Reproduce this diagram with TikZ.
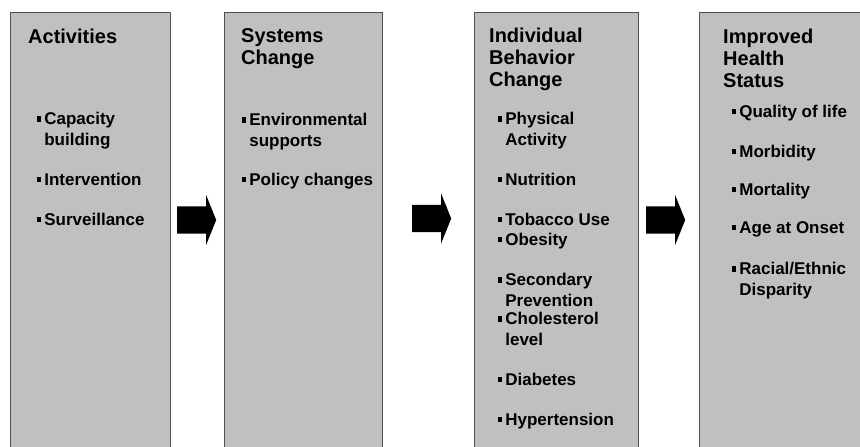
\documentclass[tikz,border=0pt]{standalone}
\usepackage{xcolor}
\usepackage{tikz}
\usepackage{fontspec}
\setmainfont{Liberation Sans}
\definecolor{boxgray}{RGB}{192, 192, 192}
\definecolor{edgegray}{RGB}{80, 80, 80}
\usetikzlibrary{shapes, arrows, positioning}
\newcommand{\bul}{\rule[0.16em]{0.25em}{0.32em}\hspace{0.17em}}
\newcommand{\ind}{\phantom{\bul}}

\begin{document}
\begin{tikzpicture}[
    x=1pt, y=-1pt,
    stagebox/.style={rectangle, draw=edgegray, line width=1.2pt, fill=boxgray, anchor=north west, minimum height=470pt, inner sep=0pt},
    heading/.style={anchor=base west, inner sep=0pt, align=left, font=\fontsize{20}{22}\selectfont\bfseries},
    entry/.style={anchor=base west, inner sep=0pt, align=left, font=\fontsize{17}{20.5}\selectfont\bfseries},
    flow/.style={single arrow, fill=black, draw=none, anchor=west, inner xsep=0pt, inner ysep=13.5pt, text height=0pt, text depth=0pt, minimum height=39pt, single arrow head extend=11.5pt, single arrow tip angle=136}
]
    \useasboundingbox (0,0) rectangle (860,447);
    \clip (0,0) rectangle (860,447);
    \fill[white] (0,0) rectangle (860,447);

    % stages
    \node[stagebox, minimum width=160pt] (act) at (10,12) {};
    \node[stagebox, minimum width=158pt] (sys) at (224,12) {};
    \node[stagebox, minimum width=164pt] (ind) at (474,12) {};
    \node[stagebox, minimum width=175pt] (hlth) at (699,12) {};

    % headings (base = last line)
    \node[heading] (actT) at (28,43) {Activities};
    \node[heading] (sysT) at (241,64) {Systems\\Change};
    \node[heading] (indT) at (489,86) {Individual\\Behavior\\Change};
    \node[heading] (hlthT) at (723,87) {Improved\\Health\\Status};

    % activities
    \node[entry] (capac) at (37,145) {\bul Capacity\\\ind building};
    \node[entry] (interv) at (37,185) {\bul Intervention};
    \node[entry] (surv) at (37,225) {\bul Surveillance};

    % systems change
    \node[entry] (envir) at (242,146) {\bul Environmental\\\ind supports};
    \node[entry] (policy) at (242,185) {\bul Policy changes};

    % individual behavior change
    \node[entry] (phys) at (498,145) {\bul Physical\\\ind Activity};
    \node[entry] (nutr) at (498,185) {\bul Nutrition};
    \node[entry] (tobac) at (498,225) {\bul Tobacco Use};
    \node[entry] (obes) at (498,245) {\bul Obesity};
    \node[entry] (secprev) at (498,306) {\bul Secondary\\\ind Prevention};
    \node[entry] (chol) at (498,345) {\bul Cholesterol\\\ind level};
    \node[entry] (diab) at (498,385) {\bul Diabetes};
    \node[entry] (hyper) at (498,425) {\bul Hypertension};

    % improved health status
    \node[entry] (qol) at (732,117) {\bul Quality of life};
    \node[entry] (morb) at (732,157) {\bul Morbidity};
    \node[entry] (mort) at (732,195) {\bul Mortality};
    \node[entry] (onset) at (732,233) {\bul Age at Onset};
    \node[entry] (dispar) at (732,295) {\bul Racial/Ethnic\\\ind Disparity};

    % block arrows
    \node[flow] (arrA) at (177,220) {};
    \node[flow] (arrB) at (412,218.5) {};
    \node[flow] (arrC) at (646,220) {};
\end{tikzpicture}
\end{document}
